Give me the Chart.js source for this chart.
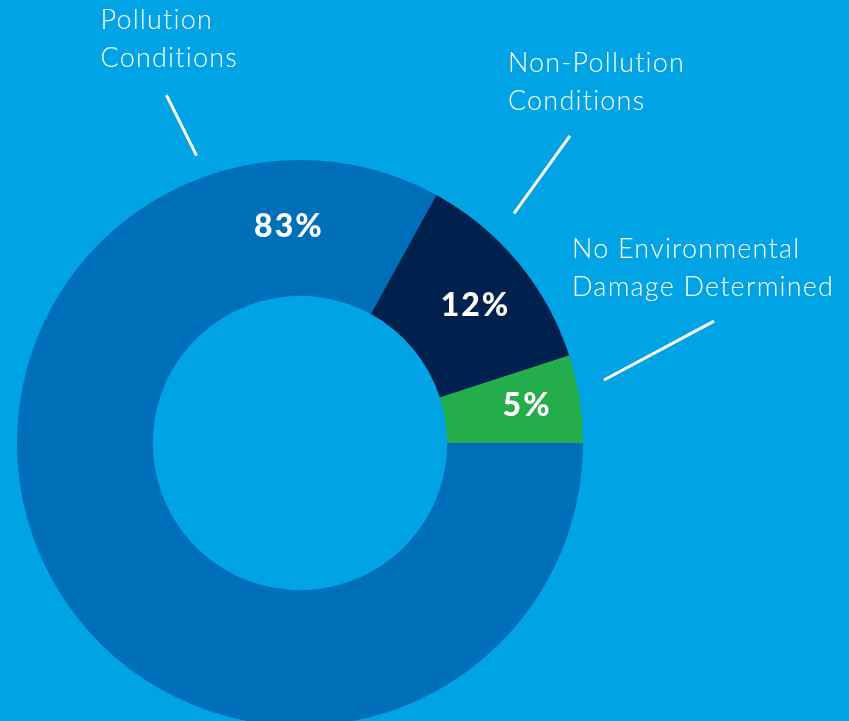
<!DOCTYPE html>
<html>
<head>
<meta charset="utf-8">
<script src="https://cdn.jsdelivr.net/npm/chart.js@4"></script>
<style>
  html, body { margin: 0; padding: 0; background: #00a3e4; overflow: hidden; }
  #wrap { position: relative; width: 849px; height: 900px; }
</style>
</head>
<body>
<div id="wrap"><canvas id="c"></canvas></div>
<script>
// share of outcomes, drawn clockwise from 3 o'clock
const categories = ['Pollution Conditions', 'Non-Pollution Conditions', 'No Environmental Damage Determined'];
const shares = [83, 12, 5];
const percentLabels = ['83%', '12%', '5%'];
const calloutLines = [['Pollution', 'Conditions'], ['Non-Pollution', 'Conditions'], ['No Environmental', 'Damage Determined']];
const sliceColors = ['#006fb9', '#00204d', '#23ad4b'];

// where the in-ring numbers and the leader lines sit, in polar terms
// (deg counter-clockwise from 3 o'clock, radius as a fraction of the outer radius)
const percentPos = [{ a: 93.2, r: 0.768 }, { a: 38.4, r: 0.787 }, { a: 9.5, r: 0.81 }];
const leaderPos = [
  { a1: 109.8, r1: 1.079, a2: 111.0, r2: 1.317, tx: -66, ty: -66 },
  { a1: 47.0, r1: 1.109, a2: 48.7, r2: 1.445, tx: -62, ty: -64 },
  { a1: 11.7, r1: 1.097, a2: 16.4, r2: 1.525, tx: -142, ty: -63 },
];

const polar = (arc, a, r) => {
  const t = a * Math.PI / 180;
  return [arc.x + Math.cos(t) * r * arc.outerRadius, arc.y - Math.sin(t) * r * arc.outerRadius];
};

const labelsPlugin = {
  id: 'labels',
  afterDatasetsDraw(chart) {
    const ctx = chart.ctx;
    const arc = chart.getDatasetMeta(0).data[0];
    ctx.save();
    ctx.fillStyle = '#fff';
    ctx.textAlign = 'center';
    ctx.textBaseline = 'middle';
    ctx.font = '900 32px Lato, "Noto Sans", sans-serif';
    ctx.letterSpacing = '2px';
    percentLabels.forEach((txt, i) => {
      const [x, y] = polar(arc, percentPos[i].a, percentPos[i].r);
      ctx.fillText(txt, x + 1, y + 1);
    });

    ctx.strokeStyle = '#fff';
    ctx.lineWidth = 3;
    ctx.textAlign = 'left';
    ctx.textBaseline = 'alphabetic';
    ctx.font = '300 27px Lato, "Noto Sans", sans-serif';
    ctx.letterSpacing = '1.2px';
    leaderPos.forEach((p, i) => {
      const [x1, y1] = polar(arc, p.a1, p.r1);
      const [x2, y2] = polar(arc, p.a2, p.r2);
      ctx.beginPath();
      ctx.moveTo(x1, y1);
      ctx.lineTo(x2, y2);
      ctx.stroke();
      calloutLines[i].forEach((line, j) => ctx.fillText(line, x2 + p.tx, y2 + p.ty + j * 38));
    });
    ctx.restore();
  },
};

new Chart(document.getElementById('c'), {
  type: 'doughnut',
  data: {
    labels: categories,
    datasets: [{
      data: shares,
      backgroundColor: sliceColors,
      borderWidth: 0,
      hoverOffset: 0,
    }],
  },
  options: {
    responsive: true,
    maintainAspectRatio: false,
    animation: false,
    rotation: 90,
    cutout: '52%',
    layout: { padding: { left: 17, right: 266, top: 160, bottom: 174 } },
    plugins: { legend: { display: false }, tooltip: { enabled: false } },
  },
  plugins: [labelsPlugin],
});
</script>
</body>
</html>
